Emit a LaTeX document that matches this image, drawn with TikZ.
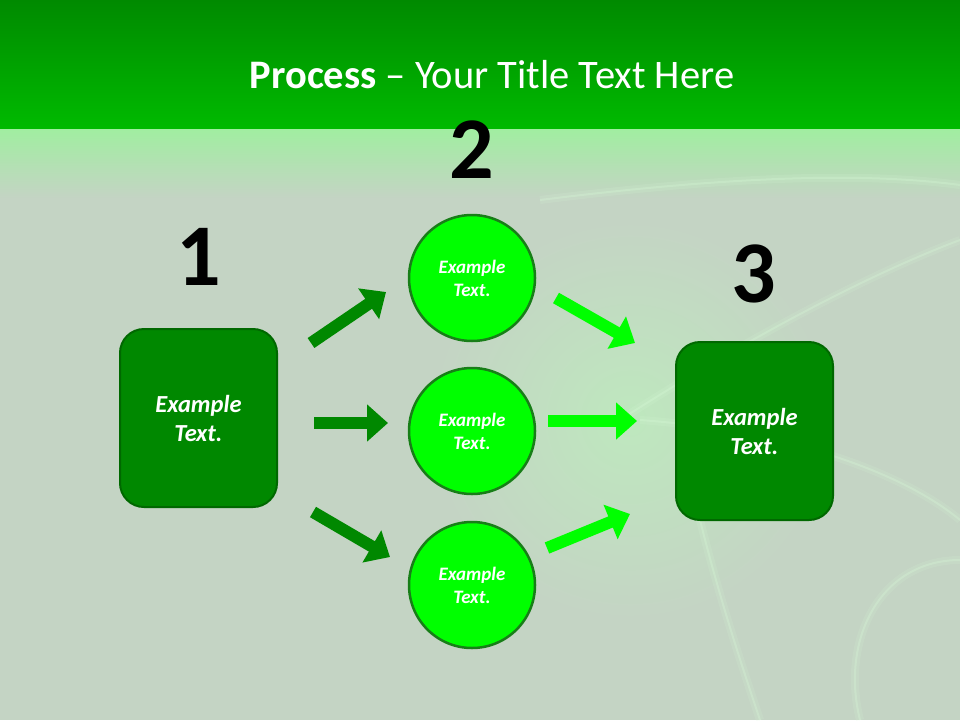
\documentclass[tikz,border=0pt]{standalone}
\usepackage{fontspec}
\setmainfont{Carlito}
\usetikzlibrary{arrows.meta}
\definecolor{bg}{RGB}{196,212,196}
\definecolor{bandtop}{RGB}{0,138,0}
\definecolor{bandbot}{RGB}{0,186,0}
\definecolor{glow}{RGB}{160,238,160}
\definecolor{glowsoft}{RGB}{190,232,190}
\definecolor{streak}{RGB}{215,250,215}
\definecolor{boxfill}{RGB}{0,136,0}
\definecolor{boxline}{RGB}{0,104,0}
\definecolor{circfill}{RGB}{0,255,0}
\definecolor{circline}{RGB}{24,126,24}
\definecolor{darkarrow}{RGB}{0,136,0}
\definecolor{lightarrow}{RGB}{0,255,0}
\tikzset{
  stepbox/.style={draw=boxline, line width=2pt, fill=boxfill, rounded corners=24pt,
    minimum width=157pt, minimum height=178pt, text=white, align=center,
    font=\fontsize{24.5}{29}\selectfont\bfseries\itshape},
  stepcirc/.style={circle, draw=circline, line width=2.5pt, fill=circfill,
    minimum size=126pt, text=white, align=center,
    font=\fontsize{19}{23}\selectfont\bfseries\itshape},
  stepnum/.style={font=\fontsize{88}{88}\selectfont\bfseries, text=black},
  darrow/.style={draw=darkarrow, line width=12pt, -{Triangle[width=36pt,length=21pt]}},
  larrow/.style={draw=lightarrow, line width=12pt, -{Triangle[width=36pt,length=21pt]}},
  streakwide/.style={draw=streak, line width=8pt, opacity=0.15},
  streakline/.style={draw=streak, line width=2pt, opacity=0.3},
}
\begin{document}
\begin{tikzpicture}[x=1pt,y=-1pt]
\useasboundingbox (0,0) rectangle (960,720);
% background
\fill[bg] (0,0) rectangle (960,720);
\shade[inner color=glowsoft, outer color=bg] (630,420) circle (200);
\shade[top color=glow, bottom color=bg] (0,128) rectangle (960,198);
% streaks
\foreach \s in {streakwide, streakline}{
  \draw[\s] (540,200) .. controls (700,180) and (850,170) .. (960,185);
  \draw[\s] (620,420) .. controls (760,330) and (880,270) .. (960,240);
  \draw[\s] (700,520) .. controls (720,600) and (740,660) .. (760,720);
  \draw[\s] (960,560) .. controls (880,560) and (840,640) .. (860,720);
  \draw[\s] (640,420) .. controls (780,430) and (900,470) .. (960,520);
}
% title band
\shade[top color=bandtop, bottom color=bandbot] (0,0) rectangle (960,128);
\node[text=white, font=\fontsize{40.5}{42}\selectfont] (title) at (492,75)
  {\textbf{Process} – Your Title Text Here};
% numbers
\node[stepnum] (n1) at (199,257) {1};
\node[stepnum] (n2) at (472,150) {2};
\node[stepnum] (n3) at (754,274) {3};
% boxes
\node[stepbox] (b1) at (198.5,418) {Example\\Text.};
\node[stepbox] (b3) at (754.5,431) {Example\\Text.};
% circles
\node[stepcirc] (c1) at (472,278) {Example\\Text.};
\node[stepcirc] (c2) at (472,431) {Example\\Text.};
\node[stepcirc] (c3) at (472,585) {Example\\Text.};
% arrow end points
\coordinate (l1s) at (311,343);
\coordinate (l1e) at (386,292);
\coordinate (l2s) at (314,423);
\coordinate (l2e) at (388,423);
\coordinate (l3s) at (313,512);
\coordinate (l3e) at (390,557);
\coordinate (r1s) at (556,298);
\coordinate (r1e) at (635,343);
\coordinate (r2s) at (548,421);
\coordinate (r2e) at (637,421);
\coordinate (r3s) at (547,548);
\coordinate (r3e) at (630,514);
% arrows
\draw[darrow] (l1s) -- (l1e);
\draw[darrow] (l2s) -- (l2e);
\draw[darrow] (l3s) -- (l3e);
\draw[larrow] (r1s) -- (r1e);
\draw[larrow] (r2s) -- (r2e);
\draw[larrow] (r3s) -- (r3e);
\end{tikzpicture}
\end{document}
